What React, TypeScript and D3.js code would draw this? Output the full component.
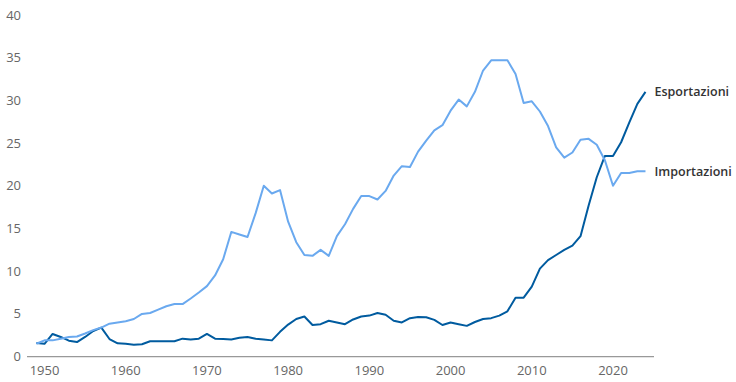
import React from "react";
import * as d3 from "d3";

const years: number[] = d3.range(1949, 2025);

const esportazioni: number[] = [
  1.6, 1.5, 2.65, 2.3, 1.86, 1.7, 2.3, 3.0, 3.4, 2.06,
  1.55, 1.5, 1.4, 1.45, 1.8, 1.8, 1.8, 1.8, 2.1, 2.0,
  2.1, 2.65, 2.1, 2.05, 2.0, 2.2, 2.3, 2.1, 2.0, 1.9,
  2.9, 3.75, 4.4, 4.7, 3.7, 3.8, 4.2, 4.0, 3.8, 4.35,
  4.7, 4.8, 5.1, 4.9, 4.2, 4.0, 4.5, 4.65, 4.6, 4.3,
  3.7, 4.0, 3.8, 3.6, 4.05, 4.4, 4.5, 4.8, 5.3, 6.9,
  6.9, 8.2, 10.3, 11.3, 11.9, 12.5, 13.0, 14.1, 17.7, 21.0,
  23.5, 23.5, 25.1, 27.4, 29.6, 31.0,
];

const importazioni: number[] = [
  1.5, 1.9, 1.9, 2.1, 2.3, 2.35, 2.7, 3.1, 3.4, 3.85,
  4.0, 4.15, 4.4, 5.0, 5.1, 5.5, 5.9, 6.15, 6.15, 6.8,
  7.5, 8.25, 9.5, 11.4, 14.6, 14.3, 14.0, 16.8, 20.0, 19.1,
  19.5, 15.8, 13.4, 11.9, 11.8, 12.5, 11.8, 14.1, 15.5, 17.3,
  18.8, 18.8, 18.4, 19.4, 21.2, 22.3, 22.2, 24.0, 25.3, 26.5,
  27.1, 28.8, 30.1, 29.3, 31.0, 33.5, 34.7, 34.7, 34.7, 33.1,
  29.7, 29.9, 28.7, 27.0, 24.5, 23.3, 23.9, 25.4, 25.5, 24.8,
  23.0, 20.0, 21.5, 21.5, 21.7, 21.7,
];

const yTicks: number[] = [0, 5, 10, 15, 20, 25, 30, 35, 40];
const xTicks: number[] = [1950, 1960, 1970, 1980, 1990, 2000, 2010, 2020];

const seriesNames: string[] = ["Esportazioni", "Importazioni"];
const seriesColors: string[] = ["#005b9f", "#6aa9ef"];

export default function App() {
  const width = 736;
  const height = 382;
  const x = d3.scaleLinear().domain([1950, 2020]).range([44.5, 613]);
  const y = d3.scaleLinear().domain([0, 40]).range([356.6, 15]);
  const allSeries = [esportazioni, importazioni];
  const line = d3
    .line<number>()
    .x((_, i) => x(years[i]))
    .y((d) => y(d));
  const font = "'Open Sans', 'Noto Sans', sans-serif";
  return (
    <svg
      width={width}
      height={height}
      style={{ position: "absolute", left: 0, top: 0, background: "#fff" }}
      fontFamily={font}
    >
      {yTicks.map((t) => (
        <text
          key={t}
          x={21}
          y={y(t)}
          dy="0.35em"
          textAnchor="end"
          fontSize={13}
          fill="#666"
        >
          {t}
        </text>
      ))}
      <line x1={27} x2={654} y1={y(0)} y2={y(0)} stroke="#999" strokeWidth={1.2} />
      {xTicks.map((t) => (
        <text key={t} x={x(t)} y={375} textAnchor="middle" fontSize={13} fill="#666">
          {t}
        </text>
      ))}
      {allSeries.map((s, k) => (
        <path
          key={seriesNames[k]}
          d={line(s) || ""}
          fill="none"
          stroke={seriesColors[k]}
          strokeWidth={2}
          strokeLinejoin="round"
        />
      ))}
      {allSeries.map((s, k) => (
        <text
          key={"l" + k}
          x={x(years[years.length - 1]) + 9}
          y={y(s[s.length - 1])}
          dy="0.35em"
          fontSize={12.5}
          fontWeight={600}
          fill="#333"
        >
          {seriesNames[k]}
        </text>
      ))}
    </svg>
  );
}
